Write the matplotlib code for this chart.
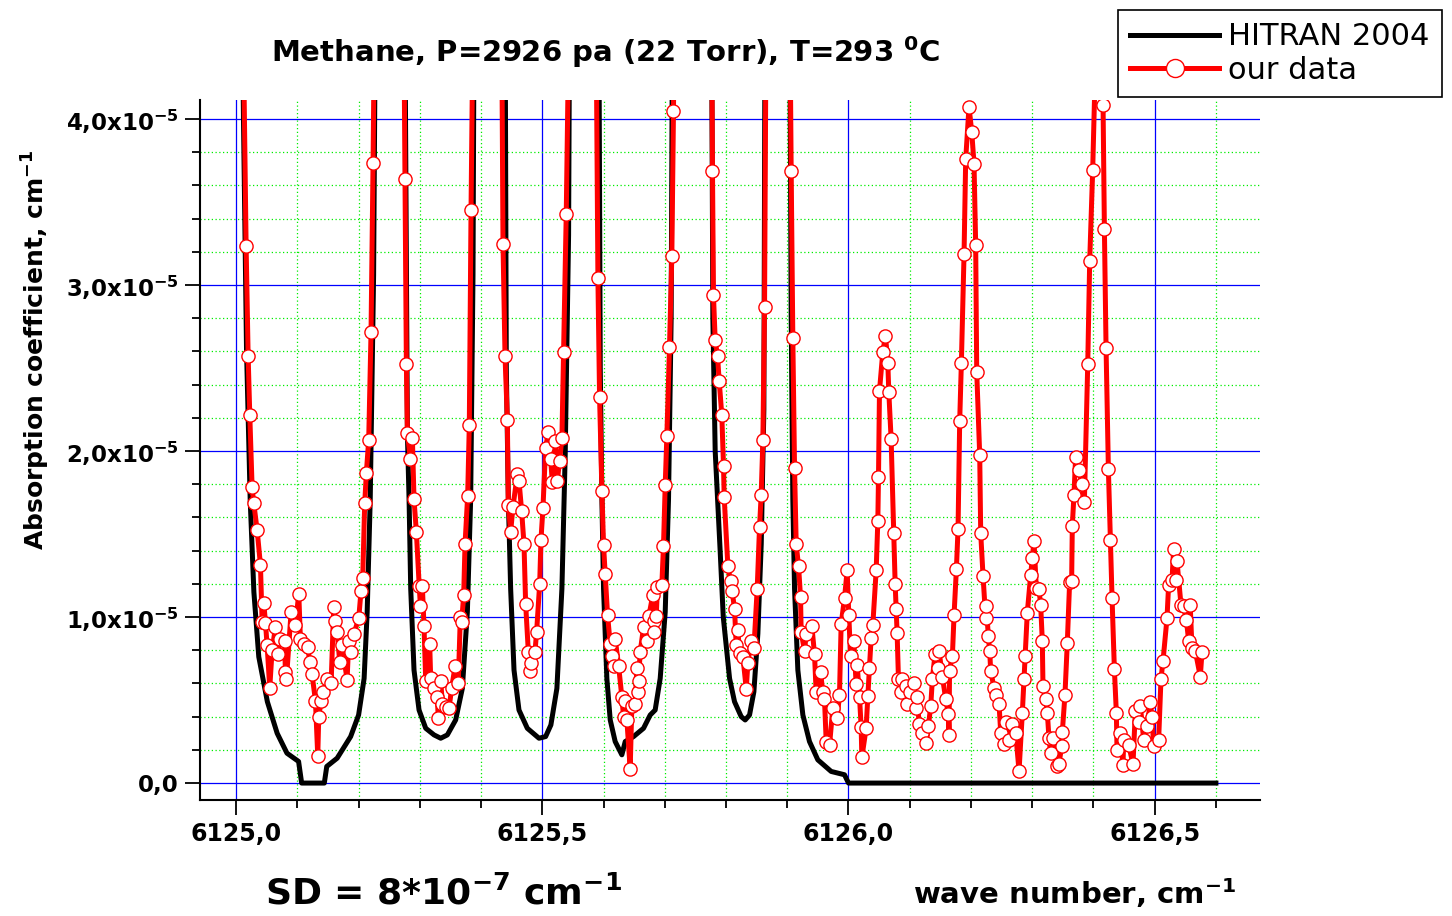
import matplotlib
matplotlib.use('Agg')
import matplotlib.pyplot as plt
from matplotlib.ticker import MultipleLocator, FixedLocator, FixedFormatter, FuncFormatter
from matplotlib.lines import Line2D

plt.rcParams['font.family'] = ['DejaVu Sans']
plt.rcParams['mathtext.default'] = 'regular'

# ---- data (wave number, cm-1 ; absorption in units of 1e-5 cm-1) ----
hitran_x = [6125.000, 6125.012, 6125.017, 6125.023, 6125.029, 6125.037, 6125.051, 6125.067,
            6125.083, 6125.102, 6125.107, 6125.144, 6125.148, 6125.165, 6125.187, 6125.200,
            6125.209, 6125.214, 6125.219, 6125.2245, 6125.228, 6125.275, 6125.2797, 6125.2824,
            6125.2851, 6125.2905, 6125.2987, 6125.3096, 6125.3232, 6125.3341, 6125.3449, 6125.3585,
            6125.3694, 6125.3776, 6125.3830, 6125.3868, 6125.389, 6125.439, 6125.4412, 6125.4445,
            6125.4483, 6125.4538, 6125.4619, 6125.4755, 6125.4946, 6125.5054, 6125.5140, 6125.5238,
            6125.5320, 6125.5374, 6125.5429, 6125.545, 6125.592, 6125.5946, 6125.5973, 6125.6000,
            6125.6054, 6125.6109, 6125.6190, 6125.6299, 6125.6354, 6125.6490, 6125.6653, 6125.6762,
            6125.6843, 6125.6925, 6125.7007, 6125.7061, 6125.7104, 6125.713, 6125.776, 6125.7785,
            6125.7823, 6125.7904, 6125.7955, 6125.8058, 6125.8139, 6125.8248, 6125.8313, 6125.8384,
            6125.8455, 6125.8520, 6125.8575, 6125.8618, 6125.864, 6125.9037, 6125.9064, 6125.9091,
            6125.9119, 6125.9173, 6125.9255, 6125.9363, 6125.9499, 6125.9717, 6125.9935, 6126.000,
            6126.600]
hitran_y = [8.0, 4.0, 2.6, 1.7, 1.15, 0.76, 0.49, 0.30,
            0.18, 0.13, 0.0, 0.0, 0.10, 0.15, 0.28, 0.41,
            0.63, 1.03, 1.71, 3.06, 5.0, 5.0, 2.1, 1.71,
            1.17, 0.68, 0.44, 0.33, 0.29, 0.27, 0.29, 0.38,
            0.57, 1.03, 1.71, 3.06, 5.0, 5.0, 2.5, 1.71,
            1.17, 0.68, 0.44, 0.33, 0.27, 0.28, 0.35, 0.57,
            1.17, 1.98, 3.3, 5.0, 5.0, 2.5, 1.71, 1.17,
            0.63, 0.38, 0.25, 0.17, 0.25, 0.28, 0.33, 0.41,
            0.44, 0.63, 1.03, 1.71, 2.8, 5.0, 5.0, 2.8,
            2.0, 1.4, 1.0, 0.63, 0.49, 0.40, 0.38, 0.41,
            0.55, 0.9, 1.44, 2.25, 5.0, 5.0, 2.8, 1.71,
            1.17, 0.68, 0.41, 0.25, 0.14, 0.07, 0.05, 0.0,
            0.0]

our_x = [6125.010, 6125.0163, 6125.0196, 6125.0223, 6125.0261, 6125.0288, 6125.0343, 6125.0397,
         6125.0424, 6125.0452, 6125.0479, 6125.0506, 6125.0549, 6125.0588, 6125.0642, 6125.0680,
         6125.0724, 6125.0790, 6125.0805, 6125.0822, 6125.0898, 6125.0968, 6125.1023, 6125.1050,
         6125.1115, 6125.1170, 6125.1202, 6125.1240, 6125.1295, 6125.1333, 6125.1349, 6125.1387,
         6125.1420, 6125.1485, 6125.1551, 6125.1594, 6125.1621, 6125.1649, 6125.1692, 6125.1730,
         6125.1812, 6125.1839, 6125.1877, 6125.1921, 6125.2002, 6125.2040, 6125.2067, 6125.2100,
         6125.2127, 6125.2165, 6125.2203, 6125.2236, 6125.227, 6125.273, 6125.2758, 6125.2780,
         6125.2797, 6125.2845, 6125.2878, 6125.2905, 6125.2943, 6125.2990, 6125.3010, 6125.3041,
         6125.3068, 6125.3096, 6125.3161, 6125.3177, 6125.3232, 6125.3286, 6125.3300, 6125.3341,
         6125.3368, 6125.3422, 6125.3477, 6125.3520, 6125.3575, 6125.3628, 6125.3661, 6125.3683,
         6125.3716, 6125.3738, 6125.3781, 6125.3808, 6125.3836, 6125.388, 6125.433, 6125.4358,
         6125.4391, 6125.4429, 6125.4445, 6125.4483, 6125.4520, 6125.4592, 6125.4619, 6125.4662,
         6125.4701, 6125.4728, 6125.4772, 6125.4793, 6125.4810, 6125.4880, 6125.4907, 6125.4957,
         6125.4978, 6125.5011, 6125.5054, 6125.5098, 6125.5136, 6125.5163, 6125.5211, 6125.5245,
         6125.5282, 6125.5320, 6125.5347, 6125.5391, 6125.545, 6125.587, 6125.5908, 6125.5935,
         6125.5973, 6125.6000, 6125.6027, 6125.6065, 6125.6109, 6125.6136, 6125.6163, 6125.6190,
         6125.6245, 6125.6299, 6125.6327, 6125.6354, 6125.6381, 6125.6435, 6125.6462, 6125.6517,
         6125.6544, 6125.6555, 6125.6571, 6125.6598, 6125.6653, 6125.6708, 6125.6740, 6125.6805,
         6125.6816, 6125.6827, 6125.6860, 6125.6881, 6125.6952, 6125.6979, 6125.7007, 6125.7034,
         6125.7077, 6125.7115, 6125.7142, 6125.716, 6125.776, 6125.7779, 6125.7795, 6125.7823,
         6125.7861, 6125.7888, 6125.7931, 6125.7959, 6125.7970, 6125.8030, 6125.8075, 6125.8100,
         6125.8139, 6125.8166, 6125.8194, 6125.8221, 6125.8275, 6125.8330, 6125.8357, 6125.8411,
         6125.8455, 6125.8509, 6125.8547, 6125.8574, 6125.8602, 6125.8629, 6125.866, 6125.9035,
         6125.9064, 6125.9091, 6125.9119, 6125.9146, 6125.9184, 6125.9217, 6125.9227, 6125.9282,
         6125.9309, 6125.9402, 6125.9445, 6125.9472, 6125.9543, 6125.9581, 6125.9608, 6125.9636,
         6125.9690, 6125.9744, 6125.9815, 6125.9853, 6125.9880, 6125.9935, 6125.9978, 6126.0005,
         6126.0033, 6126.0087, 6126.0125, 6126.0141, 6126.0180, 6126.0207, 6126.0218, 6126.0288,
         6126.0316, 6126.0343, 6126.0370, 6126.0397, 6126.0452, 6126.0479, 6126.0490, 6126.0506,
         6126.0560, 6126.0604, 6126.0642, 6126.0658, 6126.0696, 6126.0740, 6126.0762, 6126.0778,
         6126.0794, 6126.0816, 6126.0860, 6126.0880, 6126.0935, 6126.0962, 6126.1010, 6126.1071,
         6126.1098, 6126.1125, 6126.1152, 6126.1207, 6126.1272, 6126.1305, 6126.1343, 6126.1370,
         6126.1413, 6126.1468, 6126.1479, 6126.1533, 6126.1588, 6126.1631, 6126.1642, 6126.1650,
         6126.1697, 6126.1724, 6126.1762, 6126.1789, 6126.1816, 6126.1843, 6126.1887, 6126.1914,
         6126.1968, 6126.2012, 6126.2050, 6126.2077, 6126.2094, 6126.2143, 6126.2159, 6126.2197,
         6126.2240, 6126.2251, 6126.2284, 6126.2306, 6126.2322, 6126.2377, 6126.2404, 6126.2458,
         6126.2486, 6126.2540, 6126.2578, 6126.2621, 6126.2676, 6126.2730, 6126.2785, 6126.2839,
         6126.2866, 6126.2883, 6126.2920, 6126.2975, 6126.3002, 6126.3029, 6126.3067, 6126.3111,
         6126.3138, 6126.3165, 6126.3176, 6126.3220, 6126.3247, 6126.3274, 6126.3301, 6126.3339,
         6126.3410, 6126.3437, 6126.3481, 6126.3492, 6126.3535, 6126.3573, 6126.3611, 6126.3644,
         6126.3655, 6126.3682, 6126.3709, 6126.3760, 6126.3814, 6126.3852, 6126.3907, 6126.3939,
         6126.3988, 6126.405, 6126.4157, 6126.4179, 6126.4206, 6126.4244, 6126.4276, 6126.4304,
         6126.4342, 6126.4374, 6126.4385, 6126.4429, 6126.4483, 6126.4494, 6126.4576, 6126.4646,
         6126.4684, 6126.4739, 6126.4766, 6126.4820, 6126.4875, 6126.4929, 6126.4956, 6126.4984,
         6126.5065, 6126.5103, 6126.5136, 6126.5201, 6126.5228, 6126.5283, 6126.5310, 6126.5354,
         6126.5365, 6126.5430, 6126.5473, 6126.5517, 6126.5555, 6126.5580, 6126.5609, 6126.5664,
         6126.5745, 6126.5773]
our_y = [5.0, 3.235, 2.573, 2.216, 1.781, 1.686, 1.524, 1.314,
         0.973, 1.086, 0.965, 0.830, 0.573, 0.803, 0.938, 0.776,
         0.870, 0.857, 0.668, 0.627, 1.032, 0.951, 1.141, 0.865,
         0.838, 0.822, 0.730, 0.654, 0.497, 0.162, 0.397, 0.492,
         0.546, 0.627, 0.600, 1.059, 0.978, 0.911, 0.730, 0.830,
         0.622, 0.857, 0.789, 0.897, 0.992, 1.159, 1.235, 1.686,
         1.870, 2.068, 2.716, 3.735, 5.0, 5.0, 3.641, 2.524,
         2.108, 1.951, 2.081, 1.708, 1.514, 1.186, 1.065, 1.186,
         0.946, 0.614, 0.838, 0.632, 0.573, 0.519, 0.389, 0.614,
         0.478, 0.459, 0.451, 0.573, 0.703, 0.605, 1.000, 0.973,
         1.132, 1.438, 1.730, 2.159, 3.454, 5.0, 5.0, 3.249,
         2.573, 2.189, 1.676, 1.514, 1.660, 1.862, 1.822, 1.641,
         1.438, 1.078, 0.789, 0.676, 0.722, 0.789, 0.911, 1.200,
         1.465, 1.659, 2.019, 2.114, 1.951, 1.816, 2.060, 1.820,
         1.940, 2.076, 2.595, 3.430, 5.0, 5.0, 3.041, 2.324,
         1.762, 1.432, 1.262, 1.014, 0.838, 0.768, 0.703, 0.870,
         0.708, 0.519, 0.397, 0.497, 0.378, 0.086, 0.465, 0.478,
         0.695, 0.546, 0.614, 0.789, 0.938, 0.857, 1.005, 1.135,
         0.978, 0.911, 1.005, 1.181, 1.195, 1.430, 1.795, 2.092,
         2.627, 3.173, 4.046, 5.0, 5.0, 3.689, 2.938, 2.668,
         2.573, 2.424, 2.216, 1.911, 1.722, 1.308, 1.216, 1.154,
         1.051, 0.830, 0.919, 0.784, 0.762, 0.568, 0.722, 0.857,
         0.811, 1.168, 1.540, 1.735, 2.065, 2.865, 5.0, 5.0,
         3.686, 2.681, 1.900, 1.438, 1.308, 1.119, 0.911, 0.795,
         0.897, 0.946, 0.776, 0.546, 0.668, 0.546, 0.505, 0.249,
         0.227, 0.451, 0.389, 0.532, 0.957, 1.114, 1.281, 1.011,
         0.768, 0.857, 0.595, 0.714, 0.519, 0.335, 0.154, 0.330,
         0.524, 0.695, 0.876, 0.951, 1.281, 1.578, 1.843, 2.362,
         2.595, 2.695, 2.532, 2.357, 2.073, 1.505, 1.200, 1.046,
         0.903, 0.627, 0.546, 0.627, 0.586, 0.478, 0.550, 0.600,
         0.451, 0.519, 0.357, 0.303, 0.243, 0.343, 0.465, 0.627,
         0.776, 0.695, 0.797, 0.641, 0.505, 0.416, 0.289, 0.677,
         0.768, 1.014, 1.289, 1.532, 2.181, 2.527, 3.186, 3.757,
         4.073, 3.924, 3.730, 3.243, 2.478, 1.973, 1.505, 1.249,
         0.992, 1.065, 0.884, 0.795, 0.676, 0.573, 0.532, 0.478,
         0.303, 0.235, 0.370, 0.262, 0.357, 0.303, 0.073, 0.424,
         0.627, 0.768, 1.027, 1.254, 1.357, 1.459, 1.173, 1.168,
         1.073, 0.857, 0.586, 0.505, 0.424, 0.270, 0.181, 0.270,
         0.100, 0.114, 0.222, 0.308, 0.532, 0.843, 1.208, 1.216,
         1.551, 1.735, 1.965, 1.884, 1.803, 1.695, 2.524, 3.146,
         3.695, 4.6, 4.086, 3.335, 2.622, 1.892, 1.465, 1.114,
         0.686, 0.424, 0.200, 0.303, 0.108, 0.262, 0.227, 0.114,
         0.432, 0.370, 0.465, 0.262, 0.343, 0.486, 0.397, 0.222,
         0.262, 0.627, 0.735, 0.992, 1.195, 1.222, 1.411, 1.222,
         1.335, 1.073, 1.065, 0.984, 0.857, 1.073, 0.816, 0.795,
         0.641, 0.789]

x_ticks = [6125.0, 6125.5, 6126.0, 6126.5]
y_ticks = [0, 1, 2, 3, 4]
y_ticklabels = ['0,0', '1,0x10$^{-5}$', '2,0x10$^{-5}$', '3,0x10$^{-5}$', '4,0x10$^{-5}$']

fig = plt.figure(figsize=(14.52, 9.16), dpi=100)
ax = fig.add_axes([200/1452, 1 - 800/916, 1060/1452, 700/916])

ax.plot(hitran_x, hitran_y, color='black', lw=3.6, zorder=3, solid_joinstyle='round')
ax.plot(our_x, our_y, color='red', lw=3.6, marker='o', ms=9.5, mfc='white', mec='red',
        mew=1.0, zorder=4)

ax.set_xlim(6124.941, 6126.672)
ax.set_ylim(-0.102, 4.114)

ax.xaxis.set_major_locator(FixedLocator(x_ticks))
ax.xaxis.set_major_formatter(FuncFormatter(lambda v, p: ('%.1f' % v).replace('.', ',')))
ax.xaxis.set_minor_locator(MultipleLocator(0.1))
ax.yaxis.set_major_locator(FixedLocator(y_ticks))
ax.yaxis.set_major_formatter(FixedFormatter(y_ticklabels))
ax.yaxis.set_minor_locator(MultipleLocator(0.2))

ax.set_axisbelow(True)
ax.grid(which='major', color='#0000ff', lw=0.9)
ax.grid(which='minor', color='#00ee00', ls=(0, (1, 2)), lw=0.9)

for s in ['top', 'right']:
    ax.spines[s].set_visible(False)
for s in ['left', 'bottom']:
    ax.spines[s].set_linewidth(1.5)

ax.tick_params(which='major', direction='out', length=10.5, width=1.3, labelsize=17, pad=5)
ax.tick_params(axis='y', which='major', labelsize=16.5)
ax.tick_params(which='minor', direction='out', length=5.5, width=1.3)
for lab in ax.get_xticklabels() + ax.get_yticklabels():
    lab.set_fontweight('bold')

fig.text(606/1452, 1 - 52/916, 'Methane, P=2926 pa (22 Torr), T=293 $^{0}$C',
         ha='center', va='center', fontsize=21, fontweight='bold')
fig.text(36/1452, 1 - 350/916, 'Absorption coefficient, cm$^{-1}$', rotation=90,
         ha='center', va='center', fontsize=18, fontweight='bold')
fig.text(443/1452, 1 - 893/916, 'SD = 8*10$^{-7}$ cm$^{-1}$',
         ha='center', va='center', fontsize=26, fontweight='bold')
fig.text(1075/1452, 1 - 893/916, 'wave number, cm$^{-1}$',
         ha='center', va='center', fontsize=21, fontweight='bold')

handles = [Line2D([], [], color='black', lw=3.6),
           Line2D([], [], color='red', lw=3.6, marker='o', ms=13, mfc='white', mec='red', mew=1.0)]
leg = fig.legend(handles, ['HITRAN 2004', 'our data'], loc='upper left',
                 bbox_to_anchor=(1118/1452, 1 - 10/916), prop={'size': 22},
                 frameon=True, fancybox=False, framealpha=1, edgecolor='black',
                 handlelength=2.9, handletextpad=0.3, labelspacing=0.15,
                 borderpad=0.4, borderaxespad=0)
leg.get_frame().set_linewidth(1.2)

fig.savefig('out.png', dpi=100)
